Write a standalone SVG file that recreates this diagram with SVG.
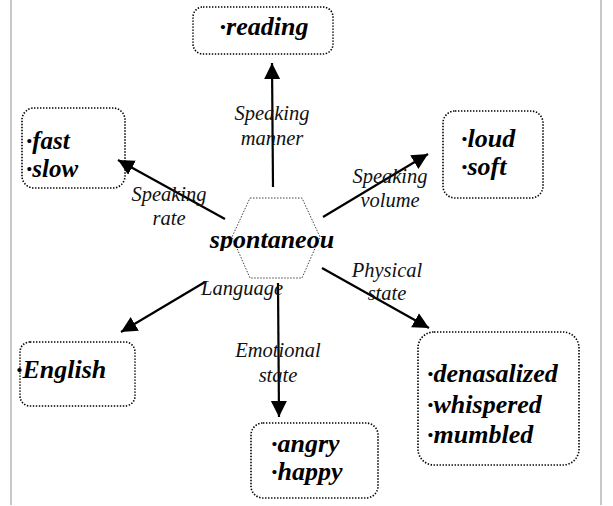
<svg xmlns="http://www.w3.org/2000/svg" width="613" height="506" viewBox="0 0 613 506">
<style>
.box{fill:none;stroke:#000;stroke-width:1.6;stroke-dasharray:1.4 1.6}
.item{font-family:'Liberation Serif','Times New Roman',Tinos,'DejaVu Serif',serif;font-weight:700;font-style:italic;font-size:26px;fill:#000}
.lbl{font-family:'Liberation Serif','Times New Roman',Tinos,'DejaVu Serif',serif;font-style:italic;font-size:20.5px;fill:#111;text-anchor:middle}
.con{stroke:#000;stroke-width:2.2;fill:none;marker-end:url(#ah)}
.frame{stroke:#c8c8c8;stroke-width:2}
</style>
<defs>
<marker id="ah" markerUnits="userSpaceOnUse" markerWidth="18" markerHeight="18" refX="16" refY="8" orient="auto">
<path d="M0,0 L16,8 L0,16 z" fill="#000"/>
</marker>
<clipPath id="cc"><rect x="150" y="200" width="250" height="51"/></clipPath>
</defs>
<line class="frame" x1="11" y1="0" x2="11" y2="505"/>
<line class="frame" x1="601" y1="0" x2="601" y2="505"/>

<g id="connectors">
<line class="con" x1="273" y1="187" x2="272" y2="63"/>
<line class="con" x1="225" y1="219" x2="118" y2="160"/>
<line class="con" x1="323" y1="217" x2="428" y2="154"/>
<line class="con" x1="322" y1="268" x2="429" y2="328"/>
<line class="con" x1="278" y1="283" x2="279" y2="417"/>
<line class="con" x1="205" y1="282" x2="121" y2="332"/>
<text class="lbl" x="272" y="120">Speaking</text>
<text class="lbl" x="272" y="145">manner</text>
<text class="lbl" x="169" y="201">Speaking</text>
<text class="lbl" x="169" y="225">rate</text>
<text class="lbl" x="390" y="183">Speaking</text>
<text class="lbl" x="390" y="207">volume</text>
<text class="lbl" x="387" y="277">Physical</text>
<text class="lbl" x="387" y="300">state</text>
<text class="lbl" x="278" y="357">Emotional</text>
<text class="lbl" x="278" y="382">state</text>
<text class="lbl" x="242" y="295">Language</text>
</g>

<g id="center">
<polygon points="250,198 302,198 320,237 302,278 250,278 232,237" fill="none" stroke="#444" stroke-width="1" stroke-dasharray="1.5 1.5"/>
<text class="item" x="272" y="248" text-anchor="middle" clip-path="url(#cc)">spontaneou</text>
</g>

<g id="reading">
<rect class="box" x="193" y="7" width="140" height="47" rx="10"/>
<text class="item" x="264" y="35" text-anchor="middle">·reading</text>
</g>

<g id="rate">
<rect class="box" x="22" y="108" width="103" height="80" rx="12"/>
<text class="item" x="26" y="149" style="font-size:25px">·fast</text>
<text class="item" x="26" y="177" style="font-size:25px">·slow</text>
</g>

<g id="volume">
<rect class="box" x="443" y="111" width="100" height="87" rx="12"/>
<text class="item" x="461" y="147">·loud</text>
<text class="item" x="461" y="175">·soft</text>
</g>

<g id="language">
<rect class="box" x="20" y="342" width="115" height="64" rx="10"/>
<text class="item" x="16" y="378">·English</text>
</g>

<g id="emotion">
<rect class="box" x="251" y="423" width="127" height="75" rx="12"/>
<text class="item" x="271" y="452">·angry</text>
<text class="item" x="271" y="480">·happy</text>
</g>

<g id="physical">
<rect class="box" x="418" y="332" width="161" height="133" rx="16"/>
<text class="item" x="427" y="382">·denasalized</text>
<text class="item" x="427" y="413">·whispered</text>
<text class="item" x="427" y="443">·mumbled</text>
</g>
</svg>
